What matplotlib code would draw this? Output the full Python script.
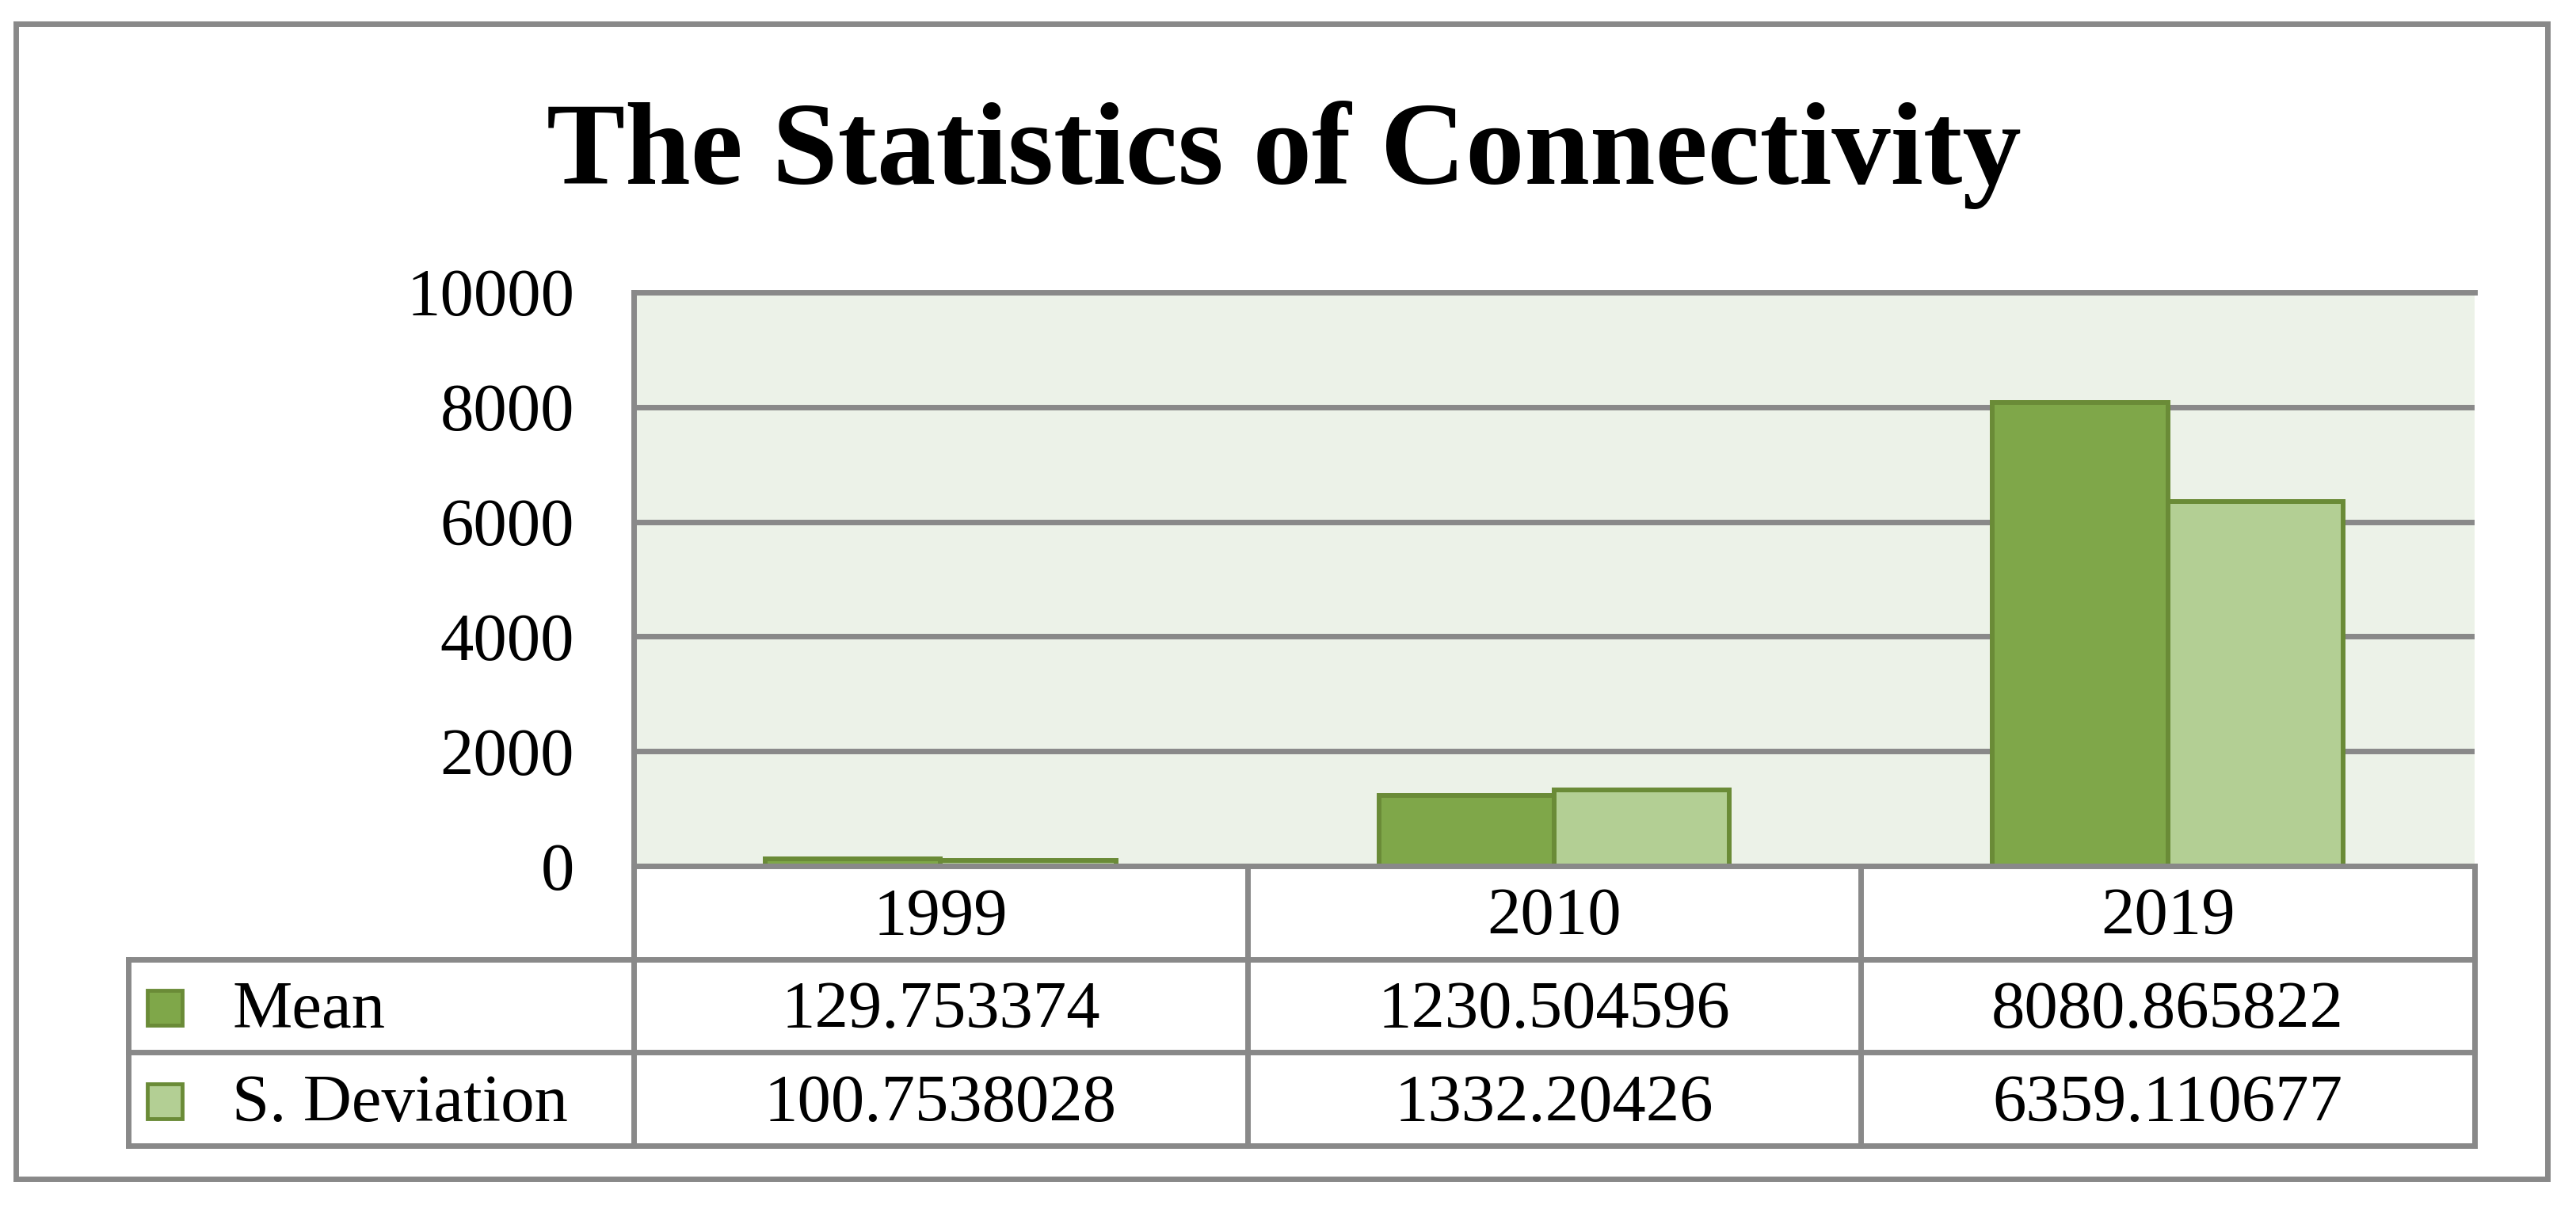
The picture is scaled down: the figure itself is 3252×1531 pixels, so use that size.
import matplotlib
matplotlib.use("Agg")
import matplotlib.pyplot as plt
from matplotlib.patches import Rectangle
import numpy as np

# ---- data ----
years = ["1999", "2010", "2019"]
series_names = ["Mean", "S. Deviation"]
mean_vals = [129.753374, 1230.504596, 8080.865822]
sd_vals = [100.7538028, 1332.20426, 6359.110677]
mean_labels = ["129.753374", "1230.504596", "8080.865822"]
sd_labels = ["100.7538028", "1332.20426", "6359.110677"]
y_ticks = [0, 2000, 4000, 6000, 8000, 10000]
title = "The Statistics of Connectivity"

# ---- style ----
W, H, DPI = 3252, 1531, 100
GRAY = "#898989"
BG = "#ecf2e8"
C_MEAN = "#7fa749"
C_SD = "#b3cf94"
EDGE = "#6a8b37"
FONT = "Liberation Serif"
FS = 61
LW = 5

plt.rcParams["font.family"] = [FONT, "DejaVu Serif"]

fig = plt.figure(figsize=(W / DPI, H / DPI), dpi=DPI)
fig.patch.set_facecolor("white")


def fbox(x0, y0, x1, y1):
    return [x0 / W, 1 - y1 / H, (x1 - x0) / W, (y1 - y0) / H]


# layout in pixels
PL, PR, PT, PB = 800, 3124, 369, 1093
TL, TB = 162, 1446

ax = fig.add_axes(fbox(PL, PT, PR, PB))
ax.set_facecolor(BG)
x = np.arange(len(years))
w = 1 / 3.5
ax.bar(x - w / 2, mean_vals, w, color=C_MEAN, edgecolor=EDGE, linewidth=4.3, label=series_names[0])
ax.bar(x + w / 2, sd_vals, w, color=C_SD, edgecolor=EDGE, linewidth=4.3, label=series_names[1])
ax.set_xlim(-0.5, len(years) - 0.5)
ax.set_ylim(0, 10000)
ax.set_yticks(y_ticks)
ax.set_yticklabels([str(v) for v in y_ticks], fontsize=FS, family=FONT)
ax.tick_params(axis="y", length=0, pad=54)
ax.set_xticks([])
ax.set_axisbelow(True)
ax.yaxis.grid(True, color=GRAY, linewidth=LW)
ax.spines["right"].set_visible(False)
for s in ["top", "left", "bottom"]:
    ax.spines[s].set_color(GRAY)
    ax.spines[s].set_linewidth(LW)

# ---- data table with legend keys ----
c = (PR - PL) / len(years)
x0 = -0.5 - (PL - TL) / c
tab = fig.add_axes(fbox(TL, PB, PR, TB))
tab.set_xlim(x0, len(years) - 0.5)
tab.set_ylim(0, 3)
tab.axis("off")

kw = dict(color=GRAY, linewidth=LW, clip_on=False, solid_capstyle="projecting")
for yy in [0, 1, 2]:
    tab.plot([x0, len(years) - 0.5], [yy, yy], **kw)
tab.plot([x0, x0], [0, 2], **kw)
for xx in np.arange(-0.5, len(years), 1.0):
    tab.plot([xx, xx], [0, 3], **kw)

dy = 0.06
for i, yr in enumerate(years):
    tab.text(i, 2.5 - dy, yr, ha="center", va="center", fontsize=FS, family=FONT)
    tab.text(i, 1.5 - dy, mean_labels[i], ha="center", va="center", fontsize=FS, family=FONT)
    tab.text(i, 0.5 - dy, sd_labels[i], ha="center", va="center", fontsize=FS, family=FONT)

key_x = x0 + (208 - TL) / c
text_x = x0 + (293 - TL) / c
for row_y, name, col in [(1.5, series_names[0], C_MEAN), (0.5, series_names[1], C_SD)]:
    tab.plot([key_x], [row_y - 0.02], marker="s", markersize=31, markerfacecolor=col,
             markeredgecolor=EDGE, markeredgewidth=3.5, clip_on=False, linestyle="none")
    tab.text(text_x, row_y - dy, name, ha="left", va="center", fontsize=FS, family=FONT)

# ---- title ----
fig.text(1621 / W, 1 - 232 / H, title, ha="center", va="baseline",
         fontsize=107, fontweight="bold", family=FONT)

# ---- outer frame ----
fig.add_artist(Rectangle((20 / W, 1 - 1488 / H), (3216 - 20) / W, (1488 - 30) / H,
                         transform=fig.transFigure, fill=False, edgecolor=GRAY, linewidth=LW))

fig.savefig("out.png", dpi=DPI, facecolor="white")
